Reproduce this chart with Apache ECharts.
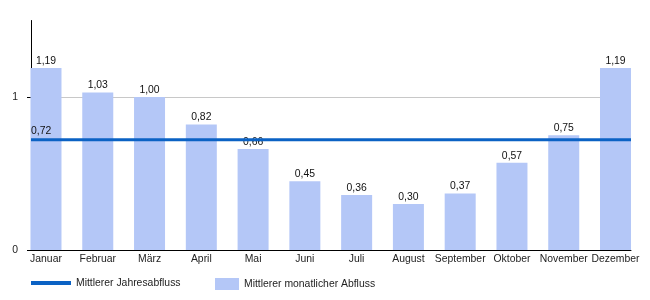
<!DOCTYPE html>
<html>
<head>
<meta charset="utf-8">
<script src="https://cdn.jsdelivr.net/npm/echarts@6/dist/echarts.min.js"></script>
<style>html,body{margin:0;padding:0;background:#fff}#c{width:650px;height:300px}</style>
</head>
<body>
<div id="c"></div>
<script>
const months = ['Januar','Februar','März','April','Mai','Juni','Juli','August','September','Oktober','November','Dezember'];
const monthly = [1.19, 1.03, 1.00, 0.82, 0.66, 0.45, 0.36, 0.30, 0.37, 0.57, 0.75, 1.19];
const annualMean = 0.72;
const yTickStep = 1;
const yMax = 1.5;
const lineName = 'Mittlerer Jahresabfluss';
const barName = 'Mittlerer monatlicher Abfluss';

const fmt = v => Number(v).toFixed(2).replace('.', ',');
const font = 'Liberation Sans, Arial, sans-serif';
const fs = 10.4;

const chart = echarts.init(document.getElementById('c'), null, {renderer: 'canvas'});
chart.setOption({
  animation: false,
  textStyle: {fontFamily: font},
  legend: [
    {data: [lineName], left: 31, top: 278, padding: 0, itemWidth: 40, itemHeight: 4, icon: 'rect',
     textStyle: {fontSize: fs, color: '#222', fontFamily: font}},
    {data: [barName], left: 215, top: 278, padding: 0, itemWidth: 24, itemHeight: 12, icon: 'rect',
     textStyle: {fontSize: fs, color: '#222', fontFamily: font}}
  ],
  grid: [
    {left: 20.1, right: 8.6, top: 20.5, bottom: 50},
    {left: 31, right: 19, top: 20.5, bottom: 50}
  ],
  xAxis: [
    {type: 'category', gridIndex: 0, data: months, boundaryGap: true,
     axisLine: {show: false}, axisTick: {show: false},
     axisLabel: {interval: 0, margin: 4, fontSize: fs, color: '#222', fontFamily: font}},
    {type: 'category', gridIndex: 1, data: ['', ''], boundaryGap: false,
     axisLine: {show: true, lineStyle: {color: '#000', width: 1}},
     axisTick: {show: false}, axisLabel: {show: false}}
  ],
  yAxis: [
    {type: 'value', gridIndex: 0, min: 0, max: yMax, show: false, splitLine: {show: false}},
    {type: 'value', gridIndex: 1, min: 0, max: yMax, interval: yTickStep,
     axisLine: {show: true, lineStyle: {color: '#000', width: 1}},
     axisTick: {show: true, length: 4, lineStyle: {color: '#000'}},
     axisLabel: {fontSize: fs, color: '#222', margin: 13, fontFamily: font, showMaxLabel: false},
     splitLine: {show: true, showMinLine: false, showMaxLine: false, lineStyle: {color: '#c8c8c8', width: 1}}}
  ],
  series: [
    {name: barName, type: 'bar', xAxisIndex: 0, yAxisIndex: 0, data: monthly, barWidth: 31,
     itemStyle: {color: '#b4c7f7'}, z: 2,
     label: {show: true, position: 'top', distance: 2, fontSize: fs, color: '#111', fontFamily: font,
             formatter: p => fmt(p.value)}},
    {name: lineName, type: 'line', xAxisIndex: 1, yAxisIndex: 1,
     data: [{value: annualMean, label: {show: true}}, {value: annualMean, label: {show: false}}],
     symbol: 'circle', symbolSize: 0, showSymbol: true, z: 3,
     lineStyle: {color: '#0b62c4', width: 3}, itemStyle: {color: '#0b62c4'},
     label: {position: 'top', align: 'left', distance: 4, fontSize: fs, color: '#111', fontFamily: font,
             formatter: p => fmt(p.value)}}
  ]
});
</script>
</body>
</html>
